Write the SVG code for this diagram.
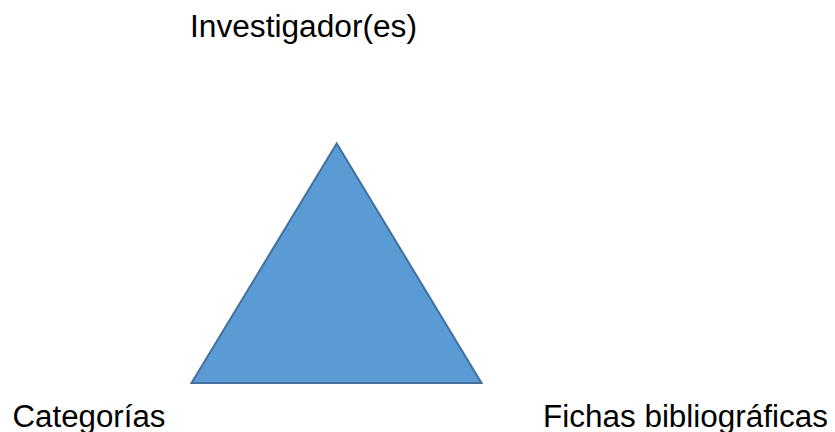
<svg xmlns="http://www.w3.org/2000/svg" width="835" height="432" viewBox="0 0 835 432">
<style>
.lbl{font-family:"Liberation Sans",Arial,sans-serif;font-size:31px;fill:#000}
.tri{fill:#5B9BD5;stroke:#41719C;stroke-width:2;stroke-linejoin:miter}
</style>
<rect width="835" height="432" fill="#fff"/>
<g id="triangle"><polygon class="tri" points="336.7,143.5 191.5,383 481.5,383"/></g>
<g id="connectors"></g>
<g id="investigador"><text class="lbl" x="190" y="36.5" textLength="227" lengthAdjust="spacingAndGlyphs">Investigador(es)</text></g>
<g id="categorias"><text class="lbl" x="12.5" y="426.5" textLength="153" lengthAdjust="spacingAndGlyphs">Categorías</text></g>
<g id="fichas"><text class="lbl" x="543" y="426.5" textLength="285" lengthAdjust="spacingAndGlyphs">Fichas bibliográficas</text></g>
</svg>
